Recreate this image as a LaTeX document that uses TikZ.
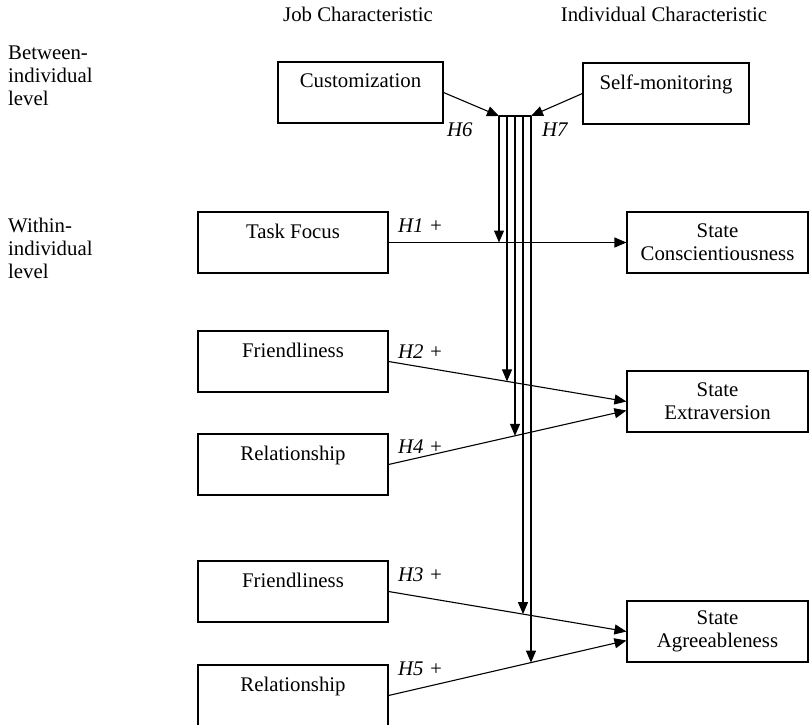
\documentclass[tikz,border=0pt]{standalone}
\usepackage{fontspec}
\setmainfont{Liberation Serif}
\usetikzlibrary{arrows.meta}
\tikzset{
    box/.style = {draw, line width = 1.1pt, align = center, minimum width = 190pt, minimum height = 61pt, inner sep = 0pt},
    tip/.style = {line width = 1.1pt, -{Triangle[length = 12pt, width = 10pt]}},
    hyp/.style = {anchor = base west, inner sep = 0pt, font = \fontsize{20.8}{23}\selectfont\itshape},
    lvl/.style = {anchor = north west, align = left, inner sep = 0pt},
    head/.style = {anchor = base, inner sep = 0pt}
}

\begin{document}
\begin{tikzpicture}
        [
            x = 1pt, y = -1pt,
            font = \fontsize{20.8}{23}\selectfont
        ]
        \useasboundingbox (0,0) rectangle (809,725);
        \node[head]                         (jobhead)  at (358,22)     {Job Characteristic};
        \node[head]                         (indhead)  at (664,22)     {Individual Characteristic};
        \node[lvl]                          (between)  at (8,46)       {Between-\\individual\\level};
        \node[lvl]                          (within)   at (8,218)      {Within-\\individual\\level};
        % boxes
        \node[box, minimum width = 165pt]   (custom)   at (360.5,92.5) {Customization\\ \phantom{X}};
        \node[box, minimum width = 166pt]   (selfmon)  at (666,93.5)   {Self-monitoring\\ \phantom{X}};
        \node[box]                          (task)     at (293,242.5)  {Task Focus\\ \phantom{X}};
        \node[box]                          (friendA)  at (293,361.5)  {Friendliness\\ \phantom{X}};
        \node[box]                          (relA)     at (293,464.5)  {Relationship\\ \phantom{X}};
        \node[box]                          (friendB)  at (293,591.5)  {Friendliness\\ \phantom{X}};
        \node[box]                          (relB)     at (293,695.5)  {Relationship\\ \phantom{X}};
        \node[box, minimum width = 181pt]   (consc)    at (717.5,242.5) {State\\Conscientiousness};
        \node[box, minimum width = 181pt]   (extra)    at (717.5,401.5) {State\\Extraversion};
        \node[box, minimum width = 181pt]   (agree)    at (717.5,631.5) {State\\Agreeableness};
        % moderator bundle
        \foreach \i/\x in {1/499, 2/507, 3/515, 4/523, 5/531}
            \coordinate (b\i) at (\x,116);
        \draw[line width = 1.1pt] (b1) -- (b5);
        \draw[tip]  (custom.east)  -- (b1);
        \draw[tip]  (selfmon.west) -- (b5);
        % arrows
        \draw[tip]  (task.east)    -- coordinate[pos = 0.5]   (hit1) (consc.west);
        \draw[tip]  (friendA.east) -- coordinate[pos = 0.498] (hit2) (extra.west);
        \draw[tip]  (relA.east)    -- coordinate[pos = 0.531] (hit3) ([yshift = -9pt]extra.west);
        \draw[tip]  (friendB.east) -- coordinate[pos = 0.565] (hit4) (agree.west);
        \draw[tip]  (relB.east)    -- coordinate[pos = 0.598] (hit5) ([yshift = -9pt]agree.west);
        \foreach \i in {1,...,5}
            \draw[tip] (b\i) -- (b\i |- hit\i);
        % hypothesis labels
        \node[hyp]  (h6)  at (447,136) {H6};
        \node[hyp]  (h7)  at (542,136) {H7};
        \node[hyp]  (h1)  at (398,232) {H1 +};
        \node[hyp]  (h2)  at (398,358) {H2 +};
        \node[hyp]  (h4)  at (398,453) {H4 +};
        \node[hyp]  (h3)  at (398,581) {H3 +};
        \node[hyp]  (h5)  at (398,675) {H5 +};
    \end{tikzpicture}
\end{document}
